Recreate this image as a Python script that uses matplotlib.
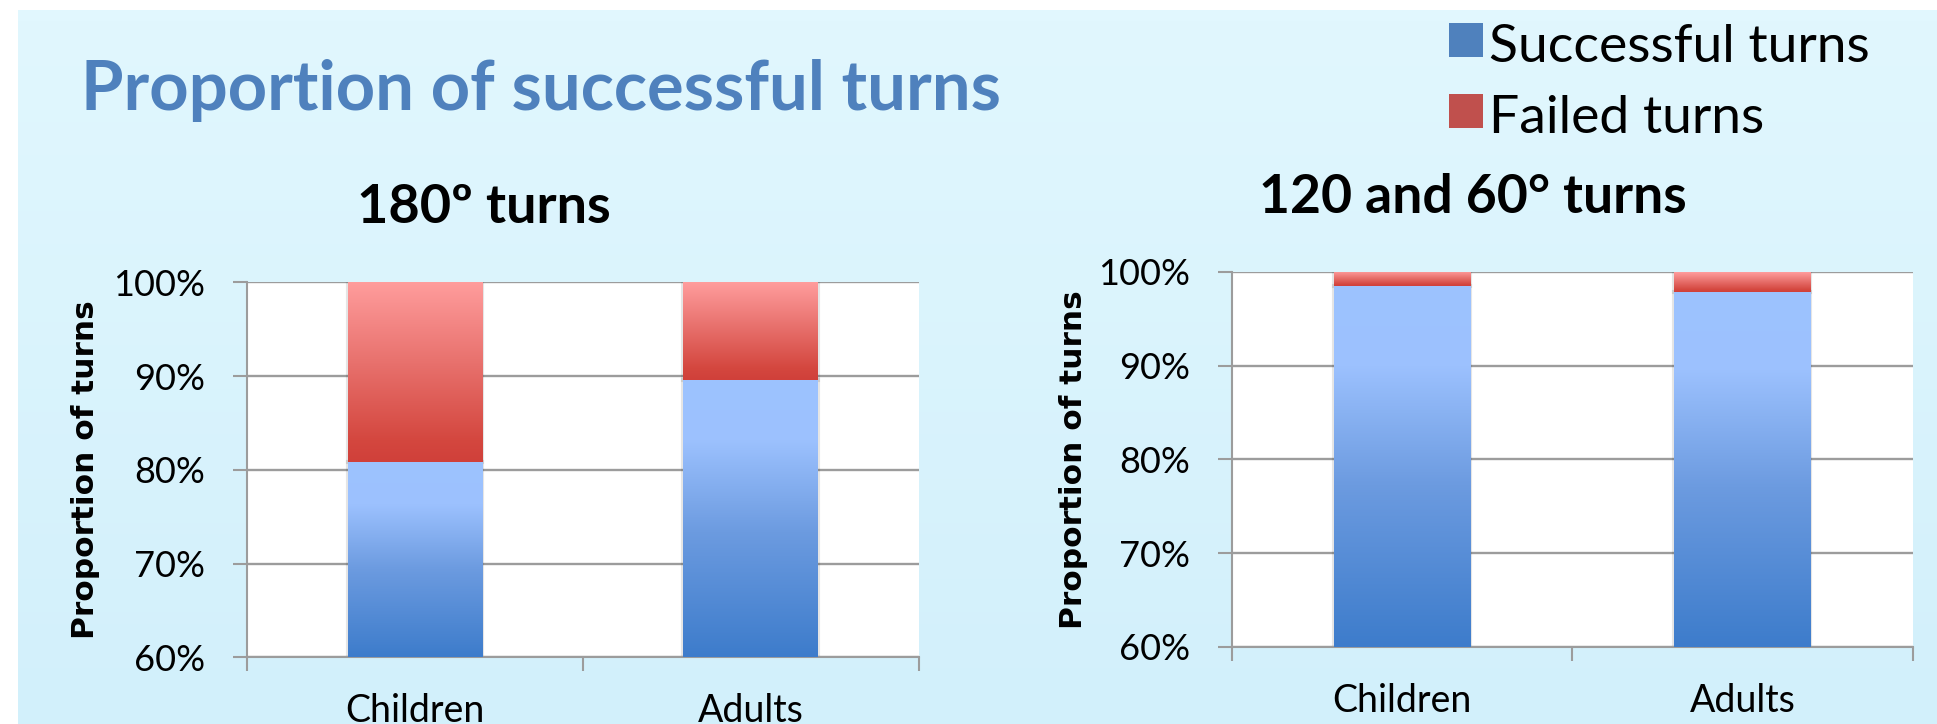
import matplotlib
matplotlib.use('Agg')
import matplotlib.pyplot as plt
import numpy as np
from matplotlib.colors import LinearSegmentedColormap
from matplotlib.patches import Rectangle

plt.rcParams['font.family'] = ['Lato', 'DejaVu Sans']

# data
groups = ['Children', 'Adults']
y_ticks = [0.6, 0.7, 0.8, 0.9, 1.0]
y_tick_labels = ['60%', '70%', '80%', '90%', '100%']
success_180 = [0.808, 0.896]
failed_180 = [0.192, 0.104]
success_120_60 = [0.985, 0.979]
failed_120_60 = [0.015, 0.021]
series_names = ['Successful turns', 'Failed turns']
series_colors = ['#4F81BD', '#C0504D']

GRAY = '#9C9C9C'
blue_grad = LinearSegmentedColormap.from_list(
    'blue_grad', [(0, '#3D7CCB'), (0.45, '#6C9BE0'), (0.78, '#9CC1FE'), (1, '#9DC3FF')])
red_grad = LinearSegmentedColormap.from_list(
    'red_grad', [(0, '#D0403A'), (0.12, '#D4473F'), (0.55, '#E8716D'), (1, '#FF9D9D')])
bg_grad = LinearSegmentedColormap.from_list('bg_grad', ['#D2F0FB', '#E1F7FE'])


def gradient_fill(ax, bars, cmap):
    # paint each bar with a vertical gradient clipped to the bar shape
    lo, hi = ax.get_ylim()
    for bar in bars:
        x, y = bar.get_x(), bar.get_y()
        w, h = bar.get_width(), bar.get_height()
        y0, y1 = max(y, lo), min(y + h, hi)
        img = ax.imshow(np.linspace(0, 1, 256).reshape(-1, 1), cmap=cmap, origin='lower',
                        extent=[x, x + w, y0, y1], aspect='auto', zorder=3)
        img.set_clip_path(bar)
        bar.set_facecolor('none')


def turn_chart(ax, success, failed, label_x):
    x = np.arange(len(groups))
    ax.set_xlim(-0.5, len(groups) - 0.5)
    ax.set_ylim(y_ticks[0], y_ticks[-1])
    b1 = ax.bar(x, success, width=0.4, edgecolor=(0, 0, 0, 0.10), linewidth=3, zorder=2)
    b2 = ax.bar(x, failed, bottom=success, width=0.4, edgecolor=(0, 0, 0, 0.10), linewidth=3, zorder=2)
    gradient_fill(ax, b1, blue_grad)
    gradient_fill(ax, b2, red_grad)

    ax.set_facecolor('white')
    ax.set_axisbelow(True)
    ax.yaxis.grid(True, color=GRAY, linewidth=1.7)
    for side in ['top', 'right']:
        ax.spines[side].set_visible(False)
    for side in ['left', 'bottom']:
        ax.spines[side].set_color(GRAY)
        ax.spines[side].set_linewidth(1.5)

    ax.set_yticks(y_ticks)
    ax.set_yticklabels(y_tick_labels, fontsize=26)
    ax.tick_params(axis='y', length=10, width=1.5, color=GRAY, pad=20)
    ax.set_xticks(x)
    ax.set_xticklabels(groups, fontsize=27)
    ax.set_xticks([-0.5, 0.5, 1.5], minor=True)
    ax.tick_params(axis='x', which='major', length=0, pad=26)
    ax.tick_params(axis='x', which='minor', length=10, width=1.5, color=GRAY)

    ax.set_ylabel('Proportion of turns', family='DejaVu Sans', fontweight='bold', fontsize=22.5)
    ax.yaxis.set_label_coords(label_x, 0.5)


fig = plt.figure(figsize=(19.37, 7.24), dpi=100, facecolor='white')

# slide background
bg = fig.add_axes([18 / 1937, 0, 1 - 18 / 1937, 1 - 10 / 724], zorder=-10)
bg.imshow(np.linspace(0, 1, 64).reshape(-1, 1), cmap=bg_grad, origin='lower',
          aspect='auto', extent=[0, 1, 0, 1])
bg.axis('off')

ax1 = fig.add_axes([0.1275, 0.0921, 0.3467, 0.518])
ax2 = fig.add_axes([0.636, 0.1064, 0.3514, 0.518])
turn_chart(ax1, success_180, failed_180, -0.219)
turn_chart(ax2, success_120_60, failed_120_60, -0.2116)

fig.text(81 / 1937, 0.848, 'Proportion of successful turns', color='#4F81BD',
         fontsize=49.5, fontweight='bold', va='baseline')
fig.text(0.2499, 0.692, '180º turns', fontsize=39, fontweight='bold', ha='center', va='baseline')
fig.text(0.7605, 0.706, '120 and 60° turns', fontsize=38.5, fontweight='bold', ha='center', va='baseline')

# legend drawn by hand at the top right
legend_base = [0.9144, 0.8163]
for name, color, base in zip(series_names, series_colors, legend_base):
    fig.add_artist(Rectangle((1449 / 1937, base + 5 / 724), 34 / 1937, 34 / 724,
                             transform=fig.transFigure, facecolor=color, edgecolor='none'))
    fig.text(1489 / 1937, base, name, fontsize=38.5, va='baseline')

fig.savefig('out.png', dpi=100, facecolor=fig.get_facecolor())
